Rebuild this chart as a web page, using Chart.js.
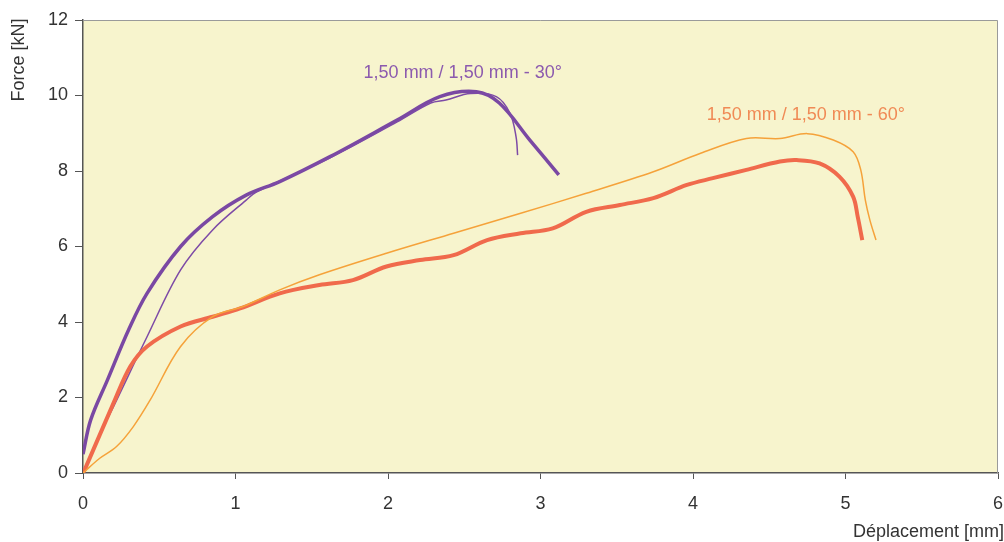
<!DOCTYPE html>
<html>
<head>
<meta charset="utf-8">
<script src="https://cdn.jsdelivr.net/npm/chart.js@4"></script>
<style>
  html, body { margin: 0; padding: 0; background: #fff; }
  #wrap { width: 1004px; height: 542px; }
</style>
</head>
<body>
<div id="wrap"><canvas id="c" width="1004" height="542"></canvas></div>
<script>
// 30 degree specimens (purple)
var p1X = [0, 0.05, 0.16, 0.3, 0.42, 0.64, 0.85, 1.07, 1.29, 1.62, 2.06, 2.34, 2.58, 2.73, 2.93, 3.12];
var p1Y = [0.5, 1.4, 2.46, 3.8, 4.76, 6.0, 6.79, 7.36, 7.72, 8.38, 9.35, 9.97, 10.1, 9.8, 8.82, 7.9];
var p2X = [0, 0.1, 0.2, 0.42, 0.64, 0.85, 1.07, 1.14, 1.62, 2.06, 2.28, 2.38, 2.54, 2.71, 2.8, 2.84, 2.85];
var p2Y = [0, 0.95, 1.76, 3.61, 5.38, 6.44, 7.23, 7.45, 8.35, 9.3, 9.8, 9.88, 10.05, 9.97, 9.53, 8.9, 8.42];
// 60 degree specimens (red / orange)
var r1X = [0, 0.02, 0.2, 0.31, 0.42, 0.64, 0.85, 1.03, 1.29, 1.55, 1.77, 1.99, 2.21, 2.43, 2.65, 2.87, 3.08, 3.3, 3.52, 3.74, 3.96, 4.13, 4.35, 4.57, 4.68, 4.83, 4.96, 5.05, 5.08, 5.11];
var r1Y = [0, 0.17, 1.85, 2.82, 3.35, 3.88, 4.14, 4.36, 4.76, 4.98, 5.11, 5.47, 5.64, 5.77, 6.17, 6.35, 6.48, 6.92, 7.1, 7.28, 7.63, 7.81, 8.03, 8.25, 8.29, 8.2, 7.85, 7.32, 6.79, 6.17];
var o1X = [0, 0.11, 0.22, 0.33, 0.44, 0.64, 0.85, 1.05, 1.29, 1.55, 1.99, 2.43, 2.87, 3.3, 3.74, 4.05, 4.35, 4.57, 4.75, 4.92, 5.05, 5.1, 5.13, 5.16, 5.2];
var o1Y = [0, 0.39, 0.7, 1.23, 1.93, 3.35, 4.14, 4.41, 4.85, 5.25, 5.82, 6.35, 6.88, 7.41, 7.98, 8.47, 8.86, 8.86, 8.99, 8.82, 8.51, 8.03, 7.23, 6.7, 6.17];

var xTicks = [0, 1, 2, 3, 4, 5, 6];
var yTicks = [0, 2, 4, 6, 8, 10, 12];

var FONT = '"Liberation Sans", Arial, sans-serif';

function pts(xs, ys) {
  return xs.map(function(x, i) { return { x: x, y: ys[i] }; });
}

function series(xs, ys, color, width) {
  return {
    data: pts(xs, ys),
    borderColor: color,
    borderWidth: width,
    showLine: true,
    pointRadius: 0,
    tension: 0.35,
    fill: false
  };
}

// plot background, top/right frame, axis titles and curve labels
var decor = {
  id: 'decor',
  beforeDraw: function(chart) {
    var a = chart.chartArea, ctx = chart.ctx;
    ctx.save();
    ctx.fillStyle = '#f7f4cd';
    ctx.fillRect(a.left, a.top, a.right - a.left, a.bottom - a.top);
    ctx.restore();
  },
  afterDraw: function(chart) {
    var a = chart.chartArea, ctx = chart.ctx;
    var xs = chart.scales.x, ys = chart.scales.y;
    ctx.save();
    ctx.strokeStyle = '#9a9a9a';
    ctx.lineWidth = 1;
    ctx.beginPath();
    ctx.moveTo(a.left, a.top + 0.5);
    ctx.lineTo(a.right - 0.5, a.top + 0.5);
    ctx.lineTo(a.right - 0.5, a.bottom);
    ctx.stroke();

    ctx.font = '18px ' + FONT;
    ctx.fillStyle = '#333';
    ctx.textAlign = 'right';
    ctx.textBaseline = 'middle';
    ctx.fillText('Déplacement [mm]', 1004, 532);

    ctx.translate(19, 60);
    ctx.rotate(-Math.PI / 2);
    ctx.textAlign = 'center';
    ctx.fillText('Force [kN]', 0, 0);
    ctx.setTransform(1, 0, 0, 1, 0, 0);

    ctx.textAlign = 'center';
    ctx.fillStyle = '#8c5aae';
    ctx.fillText('1,50 mm / 1,50 mm - 30°', xs.getPixelForValue(2.49), ys.getPixelForValue(10.6));
    ctx.fillStyle = '#f08a55';
    ctx.fillText('1,50 mm / 1,50 mm - 60°', xs.getPixelForValue(4.74), ys.getPixelForValue(9.48));
    ctx.restore();
  }
};

new Chart(document.getElementById('c'), {
  type: 'scatter',
  data: {
    datasets: [
      series(o1X, o1Y, '#f5a23a', 1.5),
      series(r1X, r1Y, '#f06a4c', 4),
      series(p2X, p2Y, '#7d4aa6', 1.5),
      series(p1X, p1Y, '#7a48a3', 3.5)
    ]
  },
  options: {
    responsive: false,
    animation: false,
    layout: { padding: { top: 20, right: 6, left: 0, bottom: 0 } },
    plugins: { legend: { display: false }, tooltip: { enabled: false } },
    scales: {
      x: {
        type: 'linear',
        min: 0, max: 6,
        afterBuildTicks: function(s) { s.ticks = xTicks.map(function(v) { return { value: v }; }); },
        afterFit: function(s) { s.height = 69; s.paddingLeft = 0; s.paddingRight = 0; },
        grid: { drawOnChartArea: false, tickLength: 6, color: '#555' },
        border: { color: '#555', width: 1.5 },
        ticks: { padding: 14, color: '#333', font: { size: 18, family: FONT } }
      },
      y: {
        min: 0, max: 12,
        afterBuildTicks: function(s) { s.ticks = yTicks.map(function(v) { return { value: v }; }); },
        afterFit: function(s) { s.width = 83; s.paddingTop = 0; s.paddingBottom = 0; },
        grid: { drawOnChartArea: false, tickLength: 8, color: '#555' },
        border: { color: '#555', width: 1.5 },
        ticks: { padding: 7, color: '#333', font: { size: 18, family: FONT } }
      }
    }
  },
  plugins: [decor]
});
</script>
</body>
</html>
